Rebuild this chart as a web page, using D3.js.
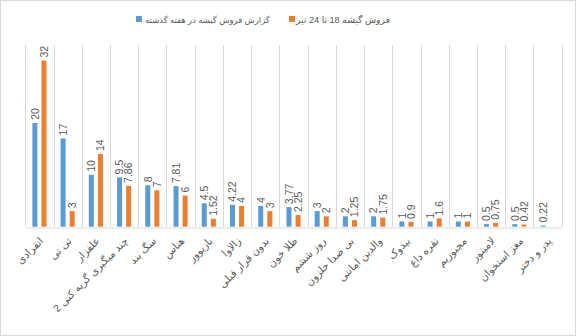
<!DOCTYPE html>
<html>
<head>
<meta charset="utf-8">
<script src="https://cdn.jsdelivr.net/npm/d3@7"></script>
<style>
  html, body { margin: 0; padding: 0; background: #fff; }
  svg { display: block; font-family: "Liberation Sans", "DejaVu Sans", sans-serif; }
</style>
</head>
<body>
<svg id="chart" width="576" height="336"></svg>
<script>
// Box office figures per film
const categories = [
  "انفرادی", "تی تی", "علفزار", "چند میگیری گریه کنی 2", "سگ بند", "هناس",
  "بازیوور", "زالاوا", "بدون قرار قبلی", "طلا خون", "روز ششم", "بی صدا حلزون",
  "والدین امانتی", "بیدوک", "نقره داغ", "مجبوریم", "لامینور", "مغز استخوان", "پدر و دختر"
];
const lastWeek = [20, 17, 10, 9.5, 8, 7.81, 4.5, 4.22, 4, 3.77, 3, 2, 2, 1, 1, 1, 0.5, 0.5, 0.22];
const tir18to24 = [32, 3, 14, 7.86, 7, 6, 1.52, 4, 3, 2.25, 2, 1.25, 1.75, 0.9, 1.6, 1, 0.75, 0.42, null];
const seriesNames = ["گزارش فروش گیشه در هفته گذشته", "فروش گیشه 18 تا 24 تیر"];
const seriesColors = ["#5b9bd5", "#ed7d31"];
const yMax = 35;

const svg = d3.select("#chart");
const W = 576, H = 336;

// outer frame
svg.append("rect").attr("x", 0.5).attr("y", 0.5).attr("width", W - 1).attr("height", H - 1)
  .attr("fill", "#fff").attr("stroke", "#d9d9d9");

const plot = { left: 25.3, right: 561.7, top: 45, bottom: 226.7 };

const x = d3.scaleBand().domain(categories).range([plot.left, plot.right]).padding(0);
const y = d3.scaleLinear().domain([0, yMax]).range([plot.bottom, plot.top]);
const inner = d3.scaleBand().domain([0, 1]).range([-7.5, 7.5]).paddingInner(0.45).paddingOuter(0.05);

// vertical category gridlines
const bounds = categories.map(c => x(c)).concat([plot.right]);
svg.append("g").selectAll("line").data(bounds).join("line")
  .attr("x1", d => Math.round(d) + 0.5).attr("x2", d => Math.round(d) + 0.5)
  .attr("y1", plot.top).attr("y2", plot.bottom)
  .attr("stroke", "#d9d9d9").attr("stroke-width", 1);

// baseline axis
const xAxis = d3.axisBottom(x).tickSize(0).tickFormat("");
const axisG = svg.append("g").attr("transform", `translate(0,${Math.round(plot.bottom) + 0.5})`).call(xAxis);
axisG.select(".domain").attr("stroke", "#d9d9d9");

// bars and value labels
const series = [lastWeek, tir18to24];
series.forEach((vals, si) => {
  const data = categories.map((c, i) => ({ c, v: vals[i] })).filter(d => d.v != null);
  const g = svg.append("g");
  g.selectAll("rect").data(data).join("rect")
    .attr("x", d => x(d.c) + x.bandwidth() / 2 + inner(si))
    .attr("width", inner.bandwidth())
    .attr("y", d => y(d.v))
    .attr("height", d => y(0) - y(d.v))
    .attr("fill", seriesColors[si]);
  g.selectAll("text").data(data).join("text")
    .attr("transform", d => {
      const cx = x(d.c) + x.bandwidth() / 2 + inner(si) + inner.bandwidth() / 2;
      return `translate(${cx + 3.8},${y(d.v) - 3}) rotate(-90)`;
    })
    .attr("text-anchor", "start")
    .attr("font-size", 10.5)
    .attr("fill", "#595959")
    .text(d => d.v);
});

// category labels: slanted, their upper end just under the category centre
const k = Math.SQRT1_2;
svg.append("g").selectAll("text").data(categories).join("text")
  .attr("text-anchor", "middle")
  .attr("dy", "0.35em")
  .attr("font-size", 10.5)
  .attr("fill", "#595959")
  .text(c => c)
  .attr("transform", function (c) {
    const L = this.getComputedTextLength();
    const ex = x(c) + x.bandwidth() / 2 + 2, ey = 239;
    return `translate(${ex - L / 2 * k},${ey + L / 2 * k}) rotate(-45)`;
  });

// legend: each entry's text sized to its slot
const legendItems = [
  { name: seriesNames[0], color: seriesColors[0], sx: 136, tx: 145, tw: 125 },
  { name: seriesNames[1], color: seriesColors[1], sx: 289, tx: 296, tw: 94 }
];
const lg = svg.append("g");
legendItems.forEach(it => {
  lg.append("rect").attr("x", it.sx).attr("y", 16).attr("width", 6).attr("height", 6).attr("fill", it.color);
  const t = lg.append("text").attr("x", it.tx + it.tw / 2).attr("y", 22.5)
    .attr("font-size", 10).attr("fill", "#595959")
    .attr("text-anchor", "middle")
    .text(it.name);
  const L = t.node().getComputedTextLength();
  if (L > it.tw) t.attr("font-size", 10 * it.tw / L);
});
</script>
</body>
</html>
